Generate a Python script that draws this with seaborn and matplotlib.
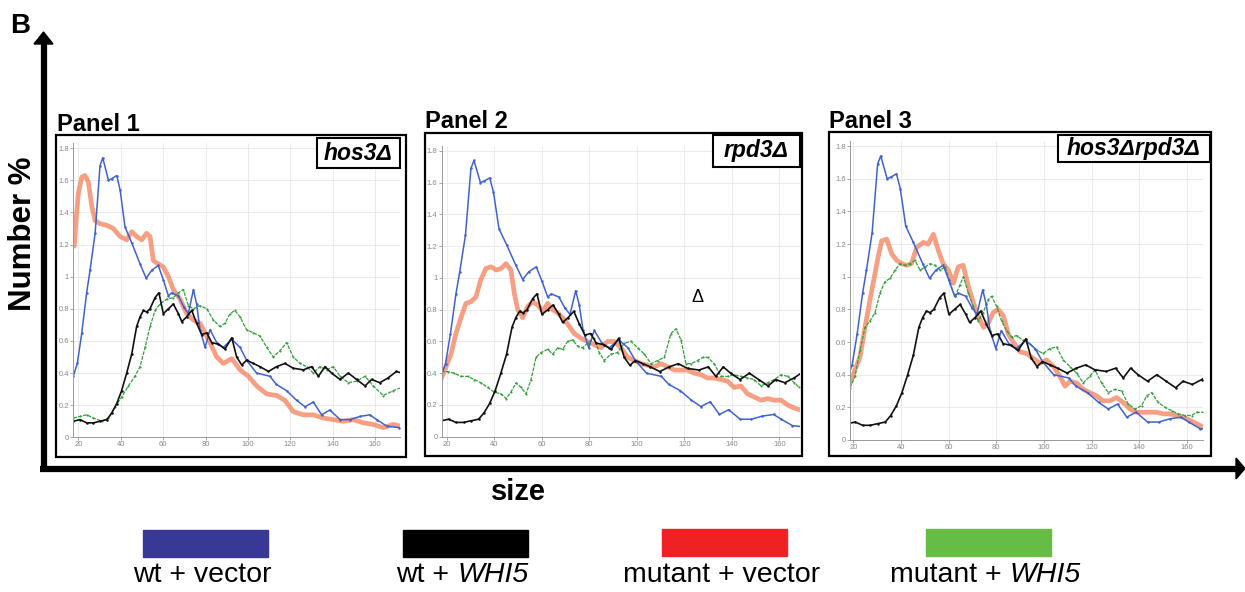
import numpy as np
import pandas as pd
import seaborn as sns
import matplotlib.pyplot as plt
from matplotlib.lines import Line2D
from matplotlib.patches import Polygon, Rectangle

# ---- data (size vs Number %) ----
# wt curves are the same in all three panels
wt_vector_x = [17.6, 19.5, 21.6, 23.9, 25.5, 27.9, 30.2, 31.5, 34.2, 35.7,
               38.1, 39.7, 42, 45.2, 49.1, 52, 54.6, 57.7, 60.1, 62.5,
               64, 67.2, 69.8, 71.9, 74.3, 75.8, 77.4, 79.8, 82.1, 85.3,
               88.4, 92.4, 96.3, 99.4, 104.1, 110.4, 113.4, 118.3, 123, 127,
               130.9, 134.8, 138.7, 143.5, 148.2, 152.9, 157.6, 160.8, 165.5, 171.4]
wt_vector_y = [0.38, 0.46, 0.65, 0.90, 1.04, 1.27, 1.69, 1.74, 1.60, 1.61,
               1.63, 1.54, 1.31, 1.21, 1.08, 0.99, 1.04, 1.07, 0.98, 0.88,
               0.90, 0.88, 0.81, 0.77, 0.92, 0.83, 0.67, 0.56, 0.67, 0.59,
               0.56, 0.61, 0.56, 0.48, 0.40, 0.38, 0.33, 0.29, 0.23, 0.19,
               0.22, 0.14, 0.17, 0.11, 0.11, 0.13, 0.14, 0.11, 0.07, 0.06]

wt_whi5_x = [17.6, 20.8, 23.9, 27.1, 30.2, 33.4, 35.7, 38.1, 40.4, 42.8,
             45.2, 47.5, 49.1, 50.7, 52.2, 53.8, 56.2, 58, 60.1, 62.5,
             64.8, 67.2, 68.8, 71.1, 73.5, 75.8, 78.2, 80.6, 82.9, 86,
             89.2, 92.4, 94.7, 97.1, 99.4, 102.6, 105.7, 109.7, 113.6, 117.5,
             121.4, 126.2, 130.1, 133.3, 136.4, 139.5, 143.5, 147.4, 151.3, 155.3,
             158.4, 162.3, 166.2, 170.1, 172.6]
wt_whi5_y = [0.10, 0.11, 0.09, 0.09, 0.10, 0.11, 0.15, 0.21, 0.29, 0.40,
             0.52, 0.69, 0.75, 0.79, 0.78, 0.80, 0.87, 0.90, 0.77, 0.80,
             0.83, 0.77, 0.72, 0.75, 0.79, 0.71, 0.64, 0.65, 0.59, 0.58,
             0.55, 0.62, 0.50, 0.45, 0.48, 0.46, 0.44, 0.41, 0.44, 0.46,
             0.43, 0.42, 0.44, 0.38, 0.44, 0.40, 0.36, 0.40, 0.36, 0.32,
             0.36, 0.34, 0.37, 0.41, 0.40]

# panel 1: hos3 delta
p1_vec_x = [18, 19, 20, 21.6, 23.1, 24.7, 26.3, 27.9, 30.2, 33.4,
            36.5, 39.7, 42.8, 45.2, 47.5, 49.9, 52.2, 53.8, 55.4, 57.7,
            60.1, 62.5, 64.8, 68, 71.1, 74.3, 77.4, 79.8, 82.1, 85.3,
            88.4, 92.4, 96.3, 100.2, 104.1, 108.9, 113.6, 117.5, 121.4, 126.2,
            130.9, 135.6, 140.3, 145, 149.8, 154.5, 159.2, 163.9, 168.6, 171.8]
p1_vec_y = [1.19, 1.37, 1.52, 1.62, 1.63, 1.59, 1.44, 1.35, 1.33, 1.32,
            1.30, 1.25, 1.23, 1.28, 1.25, 1.23, 1.27, 1.25, 1.10, 1.08,
            1.06, 1.00, 0.92, 0.86, 0.77, 0.73, 0.71, 0.65, 0.59, 0.50,
            0.46, 0.49, 0.42, 0.38, 0.32, 0.27, 0.26, 0.23, 0.16, 0.14,
            0.14, 0.12, 0.11, 0.10, 0.11, 0.09, 0.08, 0.06, 0.08, 0.07]
p1_whi5_x = [17.6, 20.8, 23.9, 27.1, 31, 34.2, 37.3, 40.4, 43.6, 46.7,
             49.1, 51.5, 53.8, 56.2, 58.5, 61.7, 64.8, 67.2, 69.5, 71.9,
             74.3, 77.4, 80.6, 83.7, 86.8, 89.2, 91.6, 93.9, 96.3, 99.4,
             102.6, 105.7, 108.9, 112, 115.2, 118.3, 121.4, 124.6, 127.7, 130.9,
             134, 137.2, 140.3, 143.5, 147.4, 151.3, 155.3, 159.2, 163.9, 168.6, 172.6]
p1_whi5_y = [0.12, 0.13, 0.14, 0.12, 0.10, 0.12, 0.19, 0.25, 0.32, 0.38,
             0.44, 0.56, 0.69, 0.79, 0.83, 0.86, 0.87, 0.90, 0.92, 0.82,
             0.80, 0.82, 0.80, 0.73, 0.69, 0.71, 0.77, 0.79, 0.75, 0.67,
             0.65, 0.63, 0.56, 0.50, 0.54, 0.59, 0.50, 0.46, 0.44, 0.40,
             0.44, 0.42, 0.44, 0.38, 0.34, 0.35, 0.38, 0.32, 0.26, 0.29, 0.31]

# panel 2: rpd3 delta
p2_vec_x = [17.6, 19.7, 21.8, 23.9, 26, 28.1, 30.2, 32.3, 34.4, 36.5,
            38.7, 40.8, 42.9, 45, 47, 48.5, 49.9, 52, 54.1, 56.2,
            58.3, 60.4, 62.5, 64.6, 66.7, 68.8, 70.9, 73.7, 76.5, 79.3,
            82.1, 84.9, 87.7, 90.5, 93.4, 96.2, 99, 101.8, 104.6, 107.4,
            110.2, 113, 115.8, 118.6, 121.4, 124.2, 127, 129.8, 132.6, 135.4,
            138.2, 141, 143.8, 146.6, 149.4, 152.3, 155.1, 157.9, 160.7, 163.5,
            166.3, 168.4]
p2_vec_y = [0.36, 0.44, 0.52, 0.65, 0.75, 0.84, 0.85, 0.88, 0.99, 1.06,
            1.07, 1.05, 1.06, 1.09, 1.05, 0.90, 0.80, 0.75, 0.82, 0.85,
            0.83, 0.79, 0.84, 0.80, 0.78, 0.75, 0.71, 0.65, 0.62, 0.60,
            0.58, 0.56, 0.60, 0.60, 0.56, 0.50, 0.48, 0.46, 0.45, 0.44,
            0.46, 0.44, 0.42, 0.42, 0.42, 0.40, 0.39, 0.37, 0.37, 0.36,
            0.35, 0.31, 0.32, 0.27, 0.25, 0.23, 0.24, 0.23, 0.23, 0.20,
            0.18, 0.17]
p2_whi5_x = [17.6, 20.4, 23.2, 26, 28.8, 31.6, 34.4, 37.3, 40, 42.9,
             45, 47, 49.2, 51.3, 53.4, 55.5, 57.6, 59.7, 62.5, 64.6,
             66.7, 68.8, 70.9, 73, 75.1, 77.2, 79.3, 82.1, 84.2, 86.3,
             89.1, 91.9, 94.8, 97.6, 100.4, 103.2, 106, 108.8, 111.6, 114.4,
             116.5, 118.6, 120.7, 122.8, 125.6, 127.7, 129.8, 132.6, 135.4, 138.2,
             141, 143.8, 146.6, 149.4, 152.3, 155.1, 157.9, 160.7, 163.5, 166.3,
             168.4]
p2_whi5_y = [0.41, 0.41, 0.40, 0.38, 0.38, 0.36, 0.34, 0.31, 0.28, 0.27,
             0.24, 0.28, 0.34, 0.31, 0.27, 0.36, 0.50, 0.53, 0.55, 0.52,
             0.56, 0.55, 0.60, 0.61, 0.57, 0.56, 0.59, 0.62, 0.53, 0.48,
             0.52, 0.53, 0.59, 0.60, 0.56, 0.52, 0.46, 0.48, 0.50, 0.65,
             0.68, 0.61, 0.46, 0.46, 0.48, 0.50, 0.50, 0.46, 0.38, 0.38,
             0.39, 0.38, 0.37, 0.36, 0.32, 0.34, 0.36, 0.39, 0.38, 0.34,
             0.31]

# panel 3: hos3 delta rpd3 delta
p3_vec_x = [18.6, 20.7, 22.8, 24.9, 27, 29.1, 30.4, 31.9, 34, 36.1,
            38.2, 40.3, 42.4, 44.4, 46.6, 49.4, 51.4, 53.6, 55.7, 57.7,
            59.9, 62, 64, 66.1, 68.3, 70.4, 72.4, 74.6, 76.7, 78.7,
            80.8, 83, 85, 87.1, 90, 92.7, 95.5, 98.3, 101.1, 104,
            106.7, 108.8, 111, 113.7, 116.5, 119.3, 122.1, 124.8, 127.7, 130.5,
            133.3, 136.1, 138.8, 141.7, 144.5, 147.3, 150.1, 152.8, 155.7, 158.5,
            161.2, 164.1, 166.8]
p3_vec_y = [0.35, 0.43, 0.51, 0.69, 0.86, 1.02, 1.12, 1.22, 1.23, 1.14,
            1.10, 1.08, 1.07, 1.08, 1.18, 1.21, 1.20, 1.26, 1.16, 1.08,
            1.04, 0.96, 1.06, 1.07, 0.94, 0.84, 0.76, 0.69, 0.72, 0.78,
            0.80, 0.76, 0.65, 0.60, 0.54, 0.53, 0.50, 0.47, 0.49, 0.45,
            0.39, 0.33, 0.36, 0.35, 0.31, 0.29, 0.27, 0.24, 0.24, 0.26,
            0.23, 0.19, 0.17, 0.17, 0.17, 0.17, 0.16, 0.16, 0.15, 0.14,
            0.12, 0.10, 0.08]
p3_whi5_x = [18.6, 20.7, 22.8, 24.9, 27, 29.1, 31.2, 33.3, 35.4, 37.5,
             39.6, 41.7, 43.8, 45.9, 48, 50.1, 52.2, 54.3, 56.4, 58.5,
             60.6, 62.7, 64.8, 66.2, 68.3, 70.3, 72.4, 74.5, 76.6, 78,
             80.1, 82.2, 84.3, 86.4, 88.5, 91.3, 94.1, 96.9, 99.7, 102.5,
             105.3, 108.1, 110.9, 113.7, 116.5, 119.3, 121.4, 124.2, 127, 129.8,
             132.6, 135.4, 138.2, 141, 143.1, 145.2, 148, 150.8, 153.6, 156.4,
             159.2, 162, 164.1, 167]
p3_whi5_y = [0.32, 0.39, 0.55, 0.69, 0.73, 0.78, 0.90, 0.97, 0.99, 1.04,
             1.08, 1.07, 1.08, 1.10, 1.04, 1.06, 1.08, 1.07, 1.04, 1.06,
             0.96, 0.88, 0.95, 1.00, 0.90, 0.82, 0.73, 0.78, 0.86, 0.88,
             0.82, 0.73, 0.67, 0.63, 0.64, 0.61, 0.59, 0.55, 0.53, 0.56,
             0.57, 0.49, 0.45, 0.41, 0.35, 0.39, 0.43, 0.35, 0.29, 0.31,
             0.30, 0.22, 0.19, 0.21, 0.27, 0.29, 0.23, 0.20, 0.18, 0.16,
             0.15, 0.15, 0.17, 0.17]

panel_titles = ["Panel 1", "Panel 2", "Panel 3"]
genotypes = ["hos3\u0394", "rpd3\u0394", "hos3\u0394rpd3\u0394"]
# legend label = plain part + italic part
legend_plain = ["wt + vector", "wt + ", "mutant + vector", "mutant + "]
legend_italic = ["", "WHI5", "", "WHI5"]
x_ticks = [20, 40, 60, 80, 100, 120, 140, 160]
y_ticks = [0, 0.2, 0.4, 0.6, 0.8, 1.0, 1.2, 1.4, 1.6, 1.8]
y_tick_labels = ["0", "0.2", "0.4", "0.6", "0.8", "1", "1.2", "1.4", "1.6", "1.8"]

panel_curves = [(p1_vec_x, p1_vec_y, p1_whi5_x, p1_whi5_y),
                (p2_vec_x, p2_vec_y, p2_whi5_x, p2_whi5_y),
                (p3_vec_x, p3_vec_y, p3_whi5_x, p3_whi5_y)]

# ---- layout (pixel positions in a 1245 x 592 picture) ----
W, H = 1245, 592
frames = [(56, 135, 406, 457), (425, 133, 802, 456), (829, 132, 1211, 456)]
inner = [(73.3, 143.4, 400, 437.3), (441.7, 146.2, 800, 436.7), (850, 141.2, 1203.3, 440)]
xlims = [(17.6, 171.8), (17.9, 168.7), (18.6, 166.9)]
geno_boxes = [(317, 138, 400, 168), (713, 135, 800, 167), (1058, 135, 1210, 162)]
title_pos = [(57, 131), (425, 128), (829, 128)]

c_blue, c_black, c_red, c_green = "#3f62d0", "#111111", "#f4764f", "#33a03c"
legend_colors = ["#383896", "#000000", "#ee2125", "#67bc45"]
legend_rects = [(143, 530, 268, 557), (403, 530, 528, 557),
                (662, 529, 787, 556), (926, 529, 1051, 556)]


def fx(px):
    return px / W


def fy(py):
    return 1 - py / H


sns.set_style("white")
plt.rcParams['font.family'] = ['Liberation Sans', 'DejaVu Sans']
plt.rcParams['text.color'] = 'black'

fig = plt.figure(figsize=(W / 100, H / 100), dpi=100)

for i in range(3):
    l, t, r, b = frames[i]
    fig.patches.append(Rectangle((fx(l), fy(b)), fx(r) - fx(l), fy(t) - fy(b),
                                 transform=fig.transFigure, facecolor="white",
                                 edgecolor="black", lw=1.6, zorder=-2))
    l, t, r, b = inner[i]
    ax = fig.add_axes([fx(l), fy(b), fx(r) - fx(l), fy(t) - fy(b)], zorder=1)
    ax.set_facecolor("none")
    vx, vy, gx, gy = panel_curves[i]

    sns.lineplot(x=vx, y=vy, ax=ax, color=c_red, lw=3.4, alpha=0.7,
                 estimator=None, sort=False)
    sns.lineplot(x=gx, y=gy, ax=ax, color=c_green, lw=0.9, linestyle=(0, (3, 1)),
                 marker="o", markersize=1.5, markeredgewidth=0, estimator=None, sort=False)
    sns.lineplot(x=wt_vector_x, y=wt_vector_y, ax=ax, color=c_blue, lw=1.1,
                 marker="o", markersize=1.8, markeredgewidth=0, estimator=None, sort=False)
    sns.lineplot(x=wt_whi5_x, y=wt_whi5_y, ax=ax, color=c_black, lw=1.2,
                 marker="o", markersize=1.8, markeredgewidth=0, estimator=None, sort=False)

    ax.set_xlim(*xlims[i])
    ax.set_ylim(0, 1.83)
    ax.set_xticks(x_ticks)
    ax.set_yticks(y_ticks)
    ax.set_yticklabels(y_tick_labels)
    ax.grid(True, color="#e8e8e8", lw=0.6)
    ax.tick_params(length=2, width=0.6, color="#999999", labelsize=5.5,
                   labelcolor="#888888", pad=1, left=True, bottom=True)
    for s in ["top", "right"]:
        ax.spines[s].set_visible(False)
    for s in ["left", "bottom"]:
        ax.spines[s].set_color("#999999")
        ax.spines[s].set_linewidth(0.7)

    # panel title and genotype box
    fig.text(fx(title_pos[i][0]), fy(title_pos[i][1]), panel_titles[i],
             fontsize=17, fontweight="bold", ha="left", va="baseline")
    l, t, r, b = geno_boxes[i]
    fig.patches.append(Rectangle((fx(l), fy(b)), fx(r) - fx(l), fy(t) - fy(b),
                                 transform=fig.transFigure, facecolor="white",
                                 edgecolor="black", lw=1.5, zorder=3))
    fig.text(fx((l + r) / 2), fy((t + b) / 2), genotypes[i], fontsize=16.5,
             fontweight="bold", fontstyle="italic", ha="center", va="center", zorder=4)

# stray delta in panel 2
fig.text(fx(697), fy(298), "\u0394", fontsize=13, ha="center", va="center", zorder=5)

# big axis arrows
fig.lines.append(Line2D([fx(43.5), fx(43.5)], [fy(471), fy(42)], color="black",
                        lw=4.5, transform=fig.transFigure, solid_capstyle="butt"))
fig.patches.append(Polygon([(fx(34), fy(44)), (fx(53), fy(44)), (fx(43.5), fy(32))],
                           closed=True, transform=fig.transFigure, color="black"))
fig.lines.append(Line2D([fx(40), fx(1238)], [fy(468.5), fy(468.5)], color="black",
                        lw=4.5, transform=fig.transFigure, solid_capstyle="butt"))
fig.patches.append(Polygon([(fx(1236), fy(458)), (fx(1236), fy(479)), (fx(1245), fy(468.5))],
                           closed=True, transform=fig.transFigure, color="black"))

fig.text(fx(10), fy(33), "B", fontsize=20, fontweight="bold", ha="left", va="baseline")
fig.text(fx(23), fy(234), "Number %", fontsize=22.5, fontweight="bold",
         rotation=90, ha="center", va="center")
fig.text(fx(518), fy(492), "size", fontsize=21, fontweight="bold",
         ha="center", va="center")

# legend: colour blocks with labels below (italic gene name measured and placed after)
renderer = fig.canvas.get_renderer()
for (l, t, r, b), col, plain, ital in zip(legend_rects, legend_colors, legend_plain, legend_italic):
    fig.patches.append(Rectangle((fx(l), fy(b)), fx(r) - fx(l), fy(t) - fy(b),
                                 transform=fig.transFigure, color=col))
    t1 = fig.text(0, fy(575), plain, fontsize=20.5, ha="left", va="center")
    t2 = fig.text(0, fy(575), ital, fontsize=20.5, fontstyle="italic", ha="left", va="center")
    w1 = t1.get_window_extent(renderer).width
    w2 = t2.get_window_extent(renderer).width if ital else 0
    start = (l + r) / 2 - 3 - (w1 + w2) / 2
    t1.set_x(fx(start))
    t2.set_x(fx(start + w1))

plt.savefig("out.png", dpi=100)
